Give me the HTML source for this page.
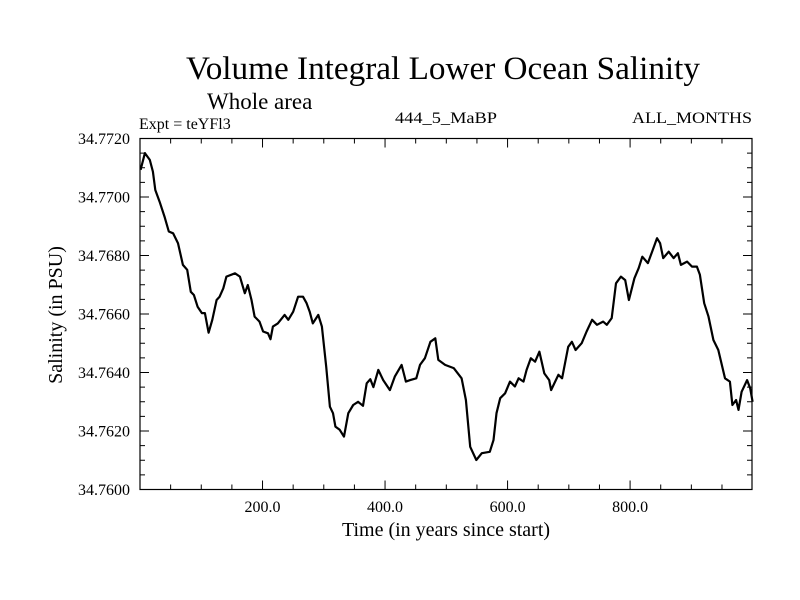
<!DOCTYPE html>
<html><head><meta charset="utf-8">
<style>
html,body{margin:0;padding:0;background:#fff;}
svg{display:block;font-family:"Liberation Serif",serif;}
</style></head>
<body>
<svg id="chart" width="800" height="600" viewBox="0 0 800 600" xmlns="http://www.w3.org/2000/svg">
<rect width="800" height="600" fill="#fff"/>
<text x="443" y="79" font-size="33" text-anchor="middle" textLength="514" lengthAdjust="spacingAndGlyphs">Volume Integral Lower Ocean Salinity</text>
<text x="207" y="109" font-size="23">Whole area</text>
<text x="139" y="129" font-size="16">Expt = teYFl3</text>
<text x="446" y="123" font-size="16" text-anchor="middle" textLength="102" lengthAdjust="spacingAndGlyphs">444_5_MaBP</text>
<text x="752" y="123" font-size="16" text-anchor="end" textLength="120" lengthAdjust="spacingAndGlyphs">ALL_MONTHS</text>
<text x="446" y="536" font-size="20" text-anchor="middle">Time (in years since start)</text>
<text transform="translate(62,315) rotate(-90)" font-size="20" text-anchor="middle">Salinity (in PSU)</text>
<g id="axes"></g>
<g id="series"></g>
</svg>
<script>
const years = [1,8,16,21,25,32,40,47,54,62,70,77,83,88,94,101,106,112,118,125,130,136,141,155,163,171,176,182,187,195,201,209,213,217,225,236,242,250,258,266,272,277,282,291,297,304,310,315,319,326,333,340,348,356,364,370,376,381,389,397,408,416,427,434,441,451,457,465,474,482,487,498,512,525,532,539,549,558,571,577,582,588,596,604,612,618,626,631,638,645,652,660,668,671,683,689,699,705,711,721,729,738,746,756,762,770,777,785,792,798,807,814,820,829,836,844,849,854,863,871,878,883,893,901,909,914,921,928,936,944,955,963,967,973,977,982,991,996,1000];
const salinity = [34.77093,34.77150,34.77127,34.77087,34.77024,34.76984,34.76933,34.76882,34.76876,34.76842,34.76768,34.76751,34.76676,34.76665,34.76625,34.76603,34.76603,34.76536,34.76580,34.76648,34.76659,34.76688,34.76728,34.76739,34.76728,34.76671,34.76699,34.76648,34.76591,34.76574,34.76540,34.76534,34.76514,34.76557,34.76568,34.76597,34.76580,34.76608,34.76659,34.76659,34.76637,34.76608,34.76568,34.76597,34.76557,34.76420,34.76283,34.76261,34.76215,34.76204,34.76181,34.76261,34.76289,34.76300,34.76286,34.76363,34.76377,34.76350,34.76409,34.76374,34.76340,34.76386,34.76426,34.76369,34.76374,34.76380,34.76426,34.76449,34.76505,34.76517,34.76443,34.76426,34.76415,34.76380,34.76306,34.76146,34.76101,34.76124,34.76129,34.76169,34.76261,34.76312,34.76329,34.76369,34.76352,34.76380,34.76369,34.76409,34.76449,34.76437,34.76471,34.76397,34.76374,34.76340,34.76392,34.76380,34.76488,34.76505,34.76477,34.76500,34.76540,34.76580,34.76563,34.76574,34.76563,34.76586,34.76705,34.76728,34.76716,34.76648,34.76722,34.76757,34.76796,34.76774,34.76813,34.76859,34.76842,34.76791,34.76813,34.76791,34.76808,34.76768,34.76779,34.76762,34.76762,34.76734,34.76637,34.76591,34.76511,34.76477,34.76380,34.76369,34.76289,34.76306,34.76272,34.76334,34.76374,34.76346,34.76300];
const xTicks = [200,400,600,800];
const xTickLabels = ["200.0","400.0","600.0","800.0"];
const yTicks = [34.760,34.762,34.764,34.766,34.768,34.770,34.772];
const yTickLabels = ["34.7600","34.7620","34.7640","34.7660","34.7680","34.7700","34.7720"];

const L=140,R=752,T=138.5,B=489.5;
const X0=0,X1=999,Y0=34.760,Y1=34.772;
const sx=v=>L+(v-X0)/(X1-X0)*(R-L);
const sy=v=>B-(v-Y0)/(Y1-Y0)*(B-T);
const NS="http://www.w3.org/2000/svg";
const axes=document.getElementById('axes');
function mk(tag,attrs,parent){const e=document.createElementNS(NS,tag);for(const k in attrs)e.setAttribute(k,attrs[k]);parent.appendChild(e);return e;}
const frame=mk('rect',{x:L,y:T,width:R-L,height:B-T,fill:'none',stroke:'#000','stroke-width':1.2},axes);


for(let v=50;v<X1;v+=50){
  const major=v%200===0, len=major?9:5, x=sx(v);
  const t1=mk('line',{x1:x,x2:x,y1:B,y2:B-len,stroke:'#000','stroke-width':1},axes);
  
  
  const t2=mk('line',{x1:x,x2:x,y1:T,y2:T+len,stroke:'#000','stroke-width':1},axes);
  
  
}
xTicks.forEach((v,i)=>{
  const t=mk('text',{x:sx(v),y:512,'font-size':16,'text-anchor':'middle'},axes);
  t.textContent=xTickLabels[i];
  
  
});
for(let k=0;k<=24;k++){
  const v=Y0+k*0.0005, major=k%4===0, len=major?9:5, y=sy(v);
  const t1=mk('line',{x1:L,x2:L+len,y1:y,y2:y,stroke:'#000','stroke-width':1},axes);
  
  
  const t2=mk('line',{x1:R,x2:R-len,y1:y,y2:y,stroke:'#000','stroke-width':1},axes);
  
  
}
yTicks.forEach((v,i)=>{
  const t=mk('text',{x:130,y:sy(v)+5.5,'font-size':16,'text-anchor':'end'},axes);
  t.textContent=yTickLabels[i];
  
  
});
const d=years.map((yr,i)=>(i?'L':'M')+sx(yr).toFixed(1)+' '+sy(salinity[i]).toFixed(1)).join(' ');
const line=mk('path',{d:d,fill:'none',stroke:'#000','stroke-width':2.2,'stroke-linejoin':'round'},document.getElementById('series'));


</script>
</body></html>
